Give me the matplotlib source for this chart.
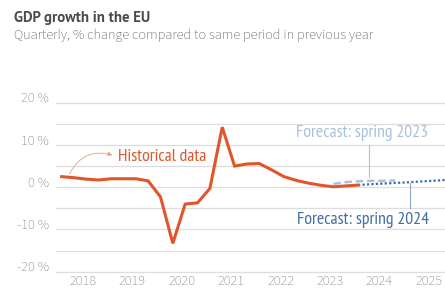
import matplotlib
matplotlib.use('Agg')
import matplotlib.pyplot as plt
from matplotlib.patches import FancyArrowPatch

# ---- data ----
hist_x = [2018 + i / 4 for i in range(25)]          # 2018Q1 .. 2024Q1
hist_y = [2.5, 2.25, 1.9, 1.7,
          2.0, 2.0, 2.0, 1.5,
          -2.3, -13.3, -4.0, -3.7,
          -0.3, 14.2, 5.0, 5.5,
          5.6, 4.1, 2.5, 1.6,
          0.95, 0.45, 0.1, 0.3,
          0.5]
fc23_x = [2023.5, 2023.75, 2024.0, 2024.25, 2024.5, 2024.75]
fc23_y = [0.8, 1.2, 1.4, 1.5, 1.5, 1.6]
fc24_x = [2024.0, 2024.25, 2024.5, 2024.75, 2025.0, 2025.25, 2025.5, 2025.75]
fc24_y = [0.5, 0.7, 0.85, 1.0, 1.15, 1.35, 1.5, 1.7]
years = [2018, 2019, 2020, 2021, 2022, 2023, 2024, 2025]
ytick_vals = [20, 10, 0, -10, -20]
ytick_labels = ['20 %', '10 %', '0 %', '-10 %', '-20 %']

NARROW = 'PT Sans Narrow'
MAIN = 'Source Sans 3'
ORANGE = '#e0562a'
LBLUE = '#a9c1dd'
DBLUE = '#3f6ea6'
GREY = '#7f7f7f'

fig = plt.figure(figsize=(4.45, 2.89), dpi=100)
ax = fig.add_axes([56 / 445, 0.0526, 1 - 56 / 445, 0.6519 - 0.0526])
ax.set_xlim(2017.885, 2025.76)
ax.set_ylim(-20.5, 20.5)
for s in ax.spines.values():
    s.set_visible(False)
ax.set_yticks([])
for g in range(-20, 21, 5):
    ax.axhline(g, color='#dddddd', lw=0.9, zorder=0)

for v, lab in zip(ytick_vals, ytick_labels):
    ax.annotate(lab, xy=(0, v), xycoords=('axes fraction', 'data'),
                xytext=(-7, 4), textcoords='offset pixels',
                ha='right', va='center', fontsize=10.3, color=GREY, family=MAIN)

ax.set_xticks([y + 0.43 for y in years])
ax.set_xticklabels([str(y) for y in years], family=MAIN, fontsize=10.3, color=GREY)
ax.tick_params(axis='x', length=0, pad=0.8)

ax.plot(fc23_x, fc23_y, color=LBLUE, lw=1.8, ls=(0, (3, 1.5)), zorder=2)
ax.plot(fc24_x, fc24_y, color=DBLUE, lw=1.6, ls=(0, (1, 1)), zorder=3)
ax.plot(hist_x, hist_y, color=ORANGE, lw=2.2, zorder=4, solid_joinstyle='miter')

# annotations
ax.text(2019.137, 7.2, 'Historical data', color=ORANGE, fontsize=12.8,
        family=NARROW, ha='left', va='center')
arr = FancyArrowPatch((2018.16, 3.2), (2019.03, 7.6), connectionstyle='arc3,rad=-0.4',
                      arrowstyle='-|>,head_length=2.5,head_width=1.2', color='#e8a080',
                      lw=0.7, ls=(0, (2, 1)), mutation_scale=1, shrinkA=0, shrinkB=0)
ax.add_patch(arr)

ax.text(2022.747, 12.76, 'Forecast: spring 2023', color=LBLUE, fontsize=12.8,
        family=NARROW, ha='left', va='center')
ax.plot([2024.228, 2024.228], [10.0, 2.3], color=LBLUE, lw=0.8)
ax.text(2022.773, -7.76, 'Forecast: spring 2024', color=DBLUE, fontsize=12.8,
        family=NARROW, ha='left', va='center')
ax.plot([2025.05, 2025.05], [1.0, -4.9], color='#8aa6c8', lw=0.8)

fig.text(14 / 445, 1 - 18 / 289, 'GDP growth in the EU', fontsize=10.6,
         fontweight='bold', color='#4a4a4a', family='PT Sans', va='center')
fig.text(14 / 445, 1 - 35 / 289,
         'Quarterly, % change compared to same period in previous year',
         fontsize=10.3, color='#555555', family=MAIN, va='center')

fig.savefig('out.png', dpi=100)
